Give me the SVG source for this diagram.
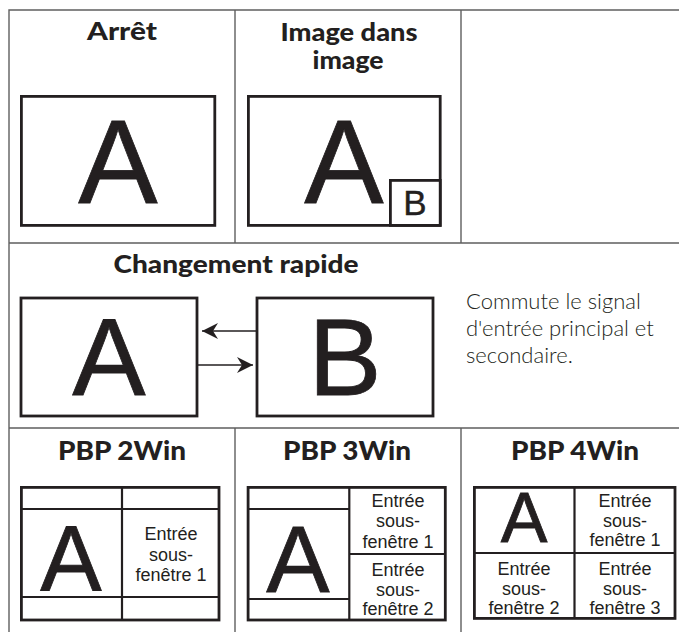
<svg xmlns="http://www.w3.org/2000/svg" width="679" height="632" viewBox="0 0 679 632">
<style>
.grid{stroke:#5f5f5f;stroke-width:1.4;fill:none}
.box{stroke:#231f20;stroke-width:2.8;fill:#fff}
.inner{stroke:#231f20;stroke-width:2.2;fill:none}
.title{font-family:Lato,"Open Sans",sans-serif;font-weight:900;fill:#231f20;text-anchor:middle}
.big{font-family:"Liberation Sans",Arial,sans-serif;fill:#231f20;stroke:#231f20;stroke-width:0.8;text-anchor:middle}
.small{font-family:"Liberation Sans",Arial,sans-serif;font-size:18px;fill:#231f20;text-anchor:middle}
.desc{font-family:Lato,"Open Sans",sans-serif;font-weight:300;font-size:22px;fill:#231f20}
.arrow{stroke:#231f20;stroke-width:1.6;fill:none}
</style>
<defs>
<marker id="ah" markerUnits="userSpaceOnUse" markerWidth="18" markerHeight="18" refX="16" refY="9" orient="auto">
<path d="M0,1 L16,9 L0,17 L5,9 Z" fill="#231f20"/>
</marker>
</defs>
<rect width="679" height="632" fill="#fff"/>
<g id="grid">
<path class="grid" d="M9,632 V10 H679 M9,243 H679 M9,428 H679 M235,10 V243 M461,10 V243 M235,428 V632 M461,428 V632"/>
</g>
<g id="arret">
<text class="title" x="122" y="40" font-size="25" textLength="70" lengthAdjust="spacingAndGlyphs">Arrêt</text>
<rect class="box" x="21.4" y="96.4" width="193.4" height="129"/>
<text class="big" x="118" y="203" font-size="119">A</text>
</g>
<g id="pip">
<text class="title" x="349" y="41" font-size="25" textLength="137" lengthAdjust="spacingAndGlyphs">Image dans</text>
<text class="title" x="348" y="69" font-size="25" textLength="71" lengthAdjust="spacingAndGlyphs">image</text>
<rect class="box" x="248.4" y="96.4" width="191.8" height="129"/>
<text class="big" x="344" y="203" font-size="119">A</text>
<rect class="box" x="390.4" y="180.4" width="49.8" height="45"/>
<text class="big" x="415" y="215" font-size="35" style="stroke-width:0.4">B</text>
</g>
<g id="changement">
<text class="title" x="236" y="273" font-size="25" textLength="245" lengthAdjust="spacingAndGlyphs">Changement rapide</text>
<rect id="boxA" class="box" x="21" y="298" width="176" height="118"/>
<text class="big" x="109" y="395" font-size="110">A</text>
<rect id="boxB" class="box" x="257" y="298" width="176" height="118"/>
<text class="big" x="345" y="395" font-size="110">B</text>
<text class="desc" x="466" y="309">Commute le signal</text>
<text class="desc" x="466" y="336">d'entrée principal et</text>
<text class="desc" x="466" y="363">secondaire.</text>
</g>
<g id="connectors">
<line class="arrow" x1="256" y1="331" x2="202" y2="331" marker-end="url(#ah)"/>
<line class="arrow" x1="198" y1="365" x2="253" y2="365" marker-end="url(#ah)"/>
</g>
<g id="pbp2">
<text class="title" x="122" y="460" font-size="27" textLength="128" lengthAdjust="spacingAndGlyphs">PBP 2Win</text>
<rect class="box" x="21.4" y="487.4" width="197.6" height="132.6"/>
<path class="inner" d="M21,509 H219 M21,597 H219 M122,487 V620"/>
<text class="big" x="71" y="591" font-size="92">A</text>
<text class="small" x="171" y="540">Entrée</text>
<text class="small" x="171" y="560.5">sous-</text>
<text class="small" x="171" y="581">fenêtre 1</text>
</g>
<g id="pbp3">
<text class="title" x="347" y="460" font-size="27" textLength="128" lengthAdjust="spacingAndGlyphs">PBP 3Win</text>
<rect class="box" x="248.1" y="487.4" width="197.2" height="132.6"/>
<path class="inner" d="M248,509 H349.3 M248,599 H349.3 M349.3,487 V620 M349.3,554 H446"/>
<text class="big" x="298" y="591.5" font-size="95">A</text>
<text class="small" x="398" y="507">Entrée</text>
<text class="small" x="398" y="527">sous-</text>
<text class="small" x="398" y="548">fenêtre 1</text>
<text class="small" x="398" y="576">Entrée</text>
<text class="small" x="398" y="596">sous-</text>
<text class="small" x="398" y="615">fenêtre 2</text>
</g>
<g id="pbp4">
<text class="title" x="575" y="460" font-size="27" textLength="128" lengthAdjust="spacingAndGlyphs">PBP 4Win</text>
<rect class="box" x="474.4" y="487.4" width="200.6" height="131"/>
<path class="inner" d="M574.5,487 V618 M474,553 H675"/>
<text class="big" x="524" y="542" font-size="70">A</text>
<text class="small" x="625" y="507">Entrée</text>
<text class="small" x="625" y="527">sous-</text>
<text class="small" x="625" y="546">fenêtre 1</text>
<text class="small" x="524" y="575">Entrée</text>
<text class="small" x="524" y="595">sous-</text>
<text class="small" x="524" y="614">fenêtre 2</text>
<text class="small" x="625" y="575">Entrée</text>
<text class="small" x="625" y="595">sous-</text>
<text class="small" x="625" y="614">fenêtre 3</text>
</g>
</svg>
